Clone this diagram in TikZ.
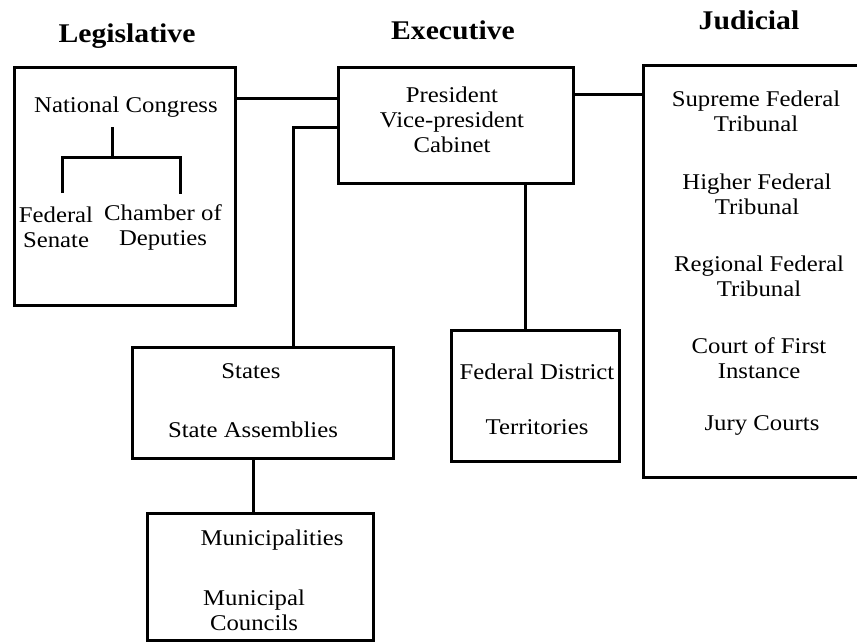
\documentclass[tikz,border=0pt]{standalone}
\usepackage{fontspec}
\setmainfont{Liberation Serif}[FakeStretch=1.1]
\begin{document}
\begin{tikzpicture}[x=1pt,y=-1pt,
  box/.style={draw=black,line width=3pt,rectangle,inner sep=0pt},
  conn/.style={draw=black,line width=3pt},
  txt/.style={inner sep=0pt,align=center,font=\fontsize{22.5}{25}\selectfont},
  head/.style={inner sep=0pt,font=\fontsize{27}{30}\selectfont\bfseries}]
\useasboundingbox (0,0) rectangle (857,641);

% headings
\node[head] (hleg) at (127,36) {Legislative};
\node[head] (hexe) at (453,30) {Executive};
\node[head] (hjud) at (749,20) {Judicial};

% boxes
\node[box,minimum width=221pt,minimum height=238pt] (leg) at (124.5,186) {};
\node[box,minimum width=235pt,minimum height=116pt] (exe) at (455.5,125) {};
\node[box,minimum width=240pt,minimum height=412pt] (jud) at (763,271) {};
\node[box,minimum width=261pt,minimum height=111pt] (sta) at (262.5,402.5) {};
\node[box,minimum width=226pt,minimum height=127pt] (mun) at (260,576.5) {};
\node[box,minimum width=168pt,minimum height=131pt] (fed) at (535,395.5) {};

% legislative contents
\node[txt] (nc) at (126,107) {National Congress};
\node[txt] (sen) at (56,227) {Federal\\Senate};
\node[txt] (dep) at (163,227) {Chamber of\\Deputies};
\coordinate (ncb) at (112,127);
\coordinate (fork) at (112,157);
\coordinate (senl) at (62,193);
\coordinate (depl) at (180,194);
\draw[conn] (ncb) -- (fork);
\draw[conn] (senl) |- (fork) -| (depl);

% executive contents
\node[txt] (pres) at (452,120) {President\\Vice-president\\Cabinet};

% judicial contents
\node[txt] (j1) at (756,111) {Supreme Federal\\Tribunal};
\node[txt] (j2) at (757,194) {Higher Federal\\Tribunal};
\node[txt] (j3) at (759,276) {Regional Federal\\Tribunal};
\node[txt] (j4) at (759,358) {Court of First\\Instance};
\node[txt] (j5) at (762,425) {Jury Courts};

% states, municipalities, federal district
\node[txt] (st) at (251,371) {States};
\node[txt] (sa) at (253,430) {State Assemblies};
\node[txt] (mu) at (272,540) {Municipalities};
\node[txt] (mc) at (254,610) {Municipal\\Councils};
\node[txt] (fd) at (537,372) {Federal District};
\node[txt] (te) at (537,427) {Territories};

% connectors
\coordinate (y1) at (0,98);
\coordinate (y2) at (0,127);
\coordinate (y3) at (0,94);
\coordinate (xs) at (293,0);
\coordinate (xf) at (525,0);
\coordinate (xm) at (253,0);
\draw[conn] (y1 -| leg.east) -- (y1 -| exe.west);
\draw[conn] (y2 -| exe.west) -| (xs |- sta.north);
\draw[conn] (y3 -| exe.east) -- (y3 -| jud.west);
\draw[conn] (xf |- exe.south) -- (xf |- fed.north);
\draw[conn] (xm |- sta.south) -- (xm |- mun.north);
\end{tikzpicture}
\end{document}
